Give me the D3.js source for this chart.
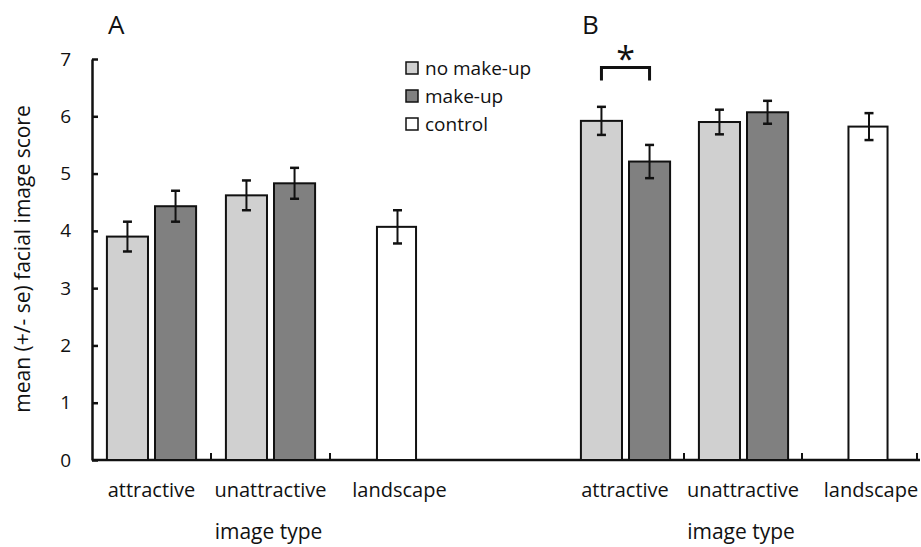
<!DOCTYPE html>
<html>
<head>
<meta charset="utf-8">
<script src="https://cdn.jsdelivr.net/npm/d3@7"></script>
<style>
  body { margin: 0; background: #fff; }
  text { font-family: "Open Sans", sans-serif; fill: #111; }
</style>
</head>
<body>
<div id="chart-area"></div>
<script>
// data
var panels = ["A", "B"];
var imageTypes = ["attractive", "unattractive", "landscape"];
var seriesNames = ["no make-up", "make-up", "control"];
var seriesColors = ["#d0d0d0", "#808080", "#ffffff"];

// means per panel: [attractive no/make, unattractive no/make, landscape control]
var meansA = [3.90, 4.43, 4.62, 4.83, 4.07];
var seA    = [0.26, 0.27, 0.26, 0.27, 0.29];
var meansB = [5.92, 5.21, 5.90, 6.07, 5.82];
var seB    = [0.245, 0.29, 0.215, 0.20, 0.235];
var barType   = ["attractive", "attractive", "unattractive", "unattractive", "landscape"];
var barSeries = ["no make-up", "make-up", "no make-up", "make-up", "control"];
var yTicks = [0, 1, 2, 3, 4, 5, 6, 7];

var width = 921, height = 547;

var svg = d3.select("#chart-area").append("svg")
	.attr("width", width)
	.attr("height", height);

var y = d3.scaleLinear().domain([0, 7]).range([460, 59]);

var color = d3.scaleOrdinal().domain(seriesNames).range(seriesColors);

// one band scale for each panel
var xA = d3.scaleBand().domain(imageTypes).range([92, 449]).padding(0);
var xB = d3.scaleBand().domain(imageTypes).range([566, 920]).padding(0);

var inner = d3.scaleBand().domain(["no make-up", "make-up"])
	.range([0, xA.bandwidth()])
	.paddingInner(0.146)
	.paddingOuter(0.31);

function barX(x, i) {
	var t = barType[i], s = barSeries[i];
	if (s == "control") return x(t) + x.bandwidth() / 2 - inner.bandwidth() / 2 + 8;
	return x(t) + inner(s);
}

// y axis
var yAxis = svg.append("g")
	.attr("transform", "translate(92,0)")
	.call(d3.axisLeft(y).tickValues(yTicks).tickFormat(d3.format("d"))
		.tickSize(-6).tickPadding(21).tickSizeOuter(0));
yAxis.attr("font-size", null).attr("font-family", null);
yAxis.select(".domain").attr("stroke", "#111").attr("stroke-width", 2.5);
yAxis.selectAll(".tick line").attr("stroke", "#111").attr("stroke-width", 2.5);
yAxis.selectAll(".tick text").style("font-size", "19px").attr("fill", "#111");

// x axis: one long line across both panels
svg.append("line")
	.attr("x1", 92).attr("x2", 920)
	.attr("y1", y(0)).attr("y2", y(0))
	.attr("stroke", "#111").attr("stroke-width", 2.5);

// small ticks at group boundaries
var tickXs = [xA("unattractive"), xA("landscape"),
	xB("unattractive"), xB("landscape"), xB("landscape") + xB.bandwidth() - 3];
svg.selectAll(".xtick").data(tickXs).enter().append("line")
	.attr("class", "xtick")
	.attr("x1", d => d).attr("x2", d => d)
	.attr("y1", y(0)).attr("y2", y(0) - 7)
	.attr("stroke", "#111").attr("stroke-width", 2);

function drawPanel(x, means, se, label) {
	var g = svg.append("g");
	var bw = inner.bandwidth();

	g.selectAll("rect").data(means).enter().append("rect")
		.attr("x", (d, i) => barX(x, i))
		.attr("y", d => y(d))
		.attr("width", (d, i) => barSeries[i] == "control" ? bw - 2 : bw)
		.attr("height", d => y(0) - y(d))
		.attr("fill", (d, i) => color(barSeries[i]))
		.attr("stroke", "#111")
		.attr("stroke-width", 2);

	// error bars
	means.forEach(function(m, i) {
		var cx = barX(x, i) + bw / 2;
		var top = y(m + se[i]), bot = y(m - se[i]);
		g.append("line").attr("x1", cx).attr("x2", cx).attr("y1", top).attr("y2", bot)
			.attr("stroke", "#111").attr("stroke-width", 2);
		g.append("line").attr("x1", cx - 4.5).attr("x2", cx + 4.5).attr("y1", top).attr("y2", top)
			.attr("stroke", "#111").attr("stroke-width", 2.5);
		g.append("line").attr("x1", cx - 4.5).attr("x2", cx + 4.5).attr("y1", bot).attr("y2", bot)
			.attr("stroke", "#111").attr("stroke-width", 2.5);
	});

	// category labels
	imageTypes.forEach(function(t, k) {
		var cx = t == "landscape" ? barX(x, 4) + bw / 2 + 2 : x(t) + x.bandwidth() / 2;
		g.append("text").attr("x", cx).attr("y", 497)
			.attr("text-anchor", "middle").style("font-size", "20px").text(t);
	});

	g.append("text")
		.attr("x", x("unattractive") + x.bandwidth() / 2 - 2)
		.attr("y", 539)
		.attr("text-anchor", "middle").style("font-size", "21px")
		.text("image type");

	g.append("text")
		.attr("x", x("attractive") + 16)
		.attr("y", 34)
		.style("font-size", "26px")
		.text(label);
}

drawPanel(xA, meansA, seA, "A");
drawPanel(xB, meansB, seB, "B");

// significance bracket in panel B
var bx1 = barX(xB, 0) + inner.bandwidth() / 2, bx2 = barX(xB, 1) + inner.bandwidth() / 2;
var by = y(6.85);
svg.append("path")
	.attr("d", "M" + bx1 + "," + (by + 13) + "V" + by + "H" + bx2 + "V" + (by + 13))
	.attr("fill", "none").attr("stroke", "#111").attr("stroke-width", 3);
svg.append("text")
	.attr("x", (bx1 + bx2) / 2).attr("y", by + 3)
	.attr("text-anchor", "middle").style("font-size", "34px")
	.text("*");

// y axis title
svg.append("text")
	.attr("transform", "translate(30,259) rotate(-90)")
	.attr("text-anchor", "middle")
	.style("font-size", "21px")
	.text("mean (+/- se) facial image score");

// legend
var legend = svg.append("g").attr("transform", "translate(406,62)");
seriesNames.forEach(function(s, i) {
	legend.append("rect")
		.attr("x", 0).attr("y", i * 28)
		.attr("width", 12).attr("height", 12)
		.attr("fill", color(s)).attr("stroke", "#111").attr("stroke-width", 1.5);
	legend.append("text")
		.attr("x", 19).attr("y", i * 28 + 13)
		.style("font-size", "19px")
		.text(s);
});
</script>
</body>
</html>
